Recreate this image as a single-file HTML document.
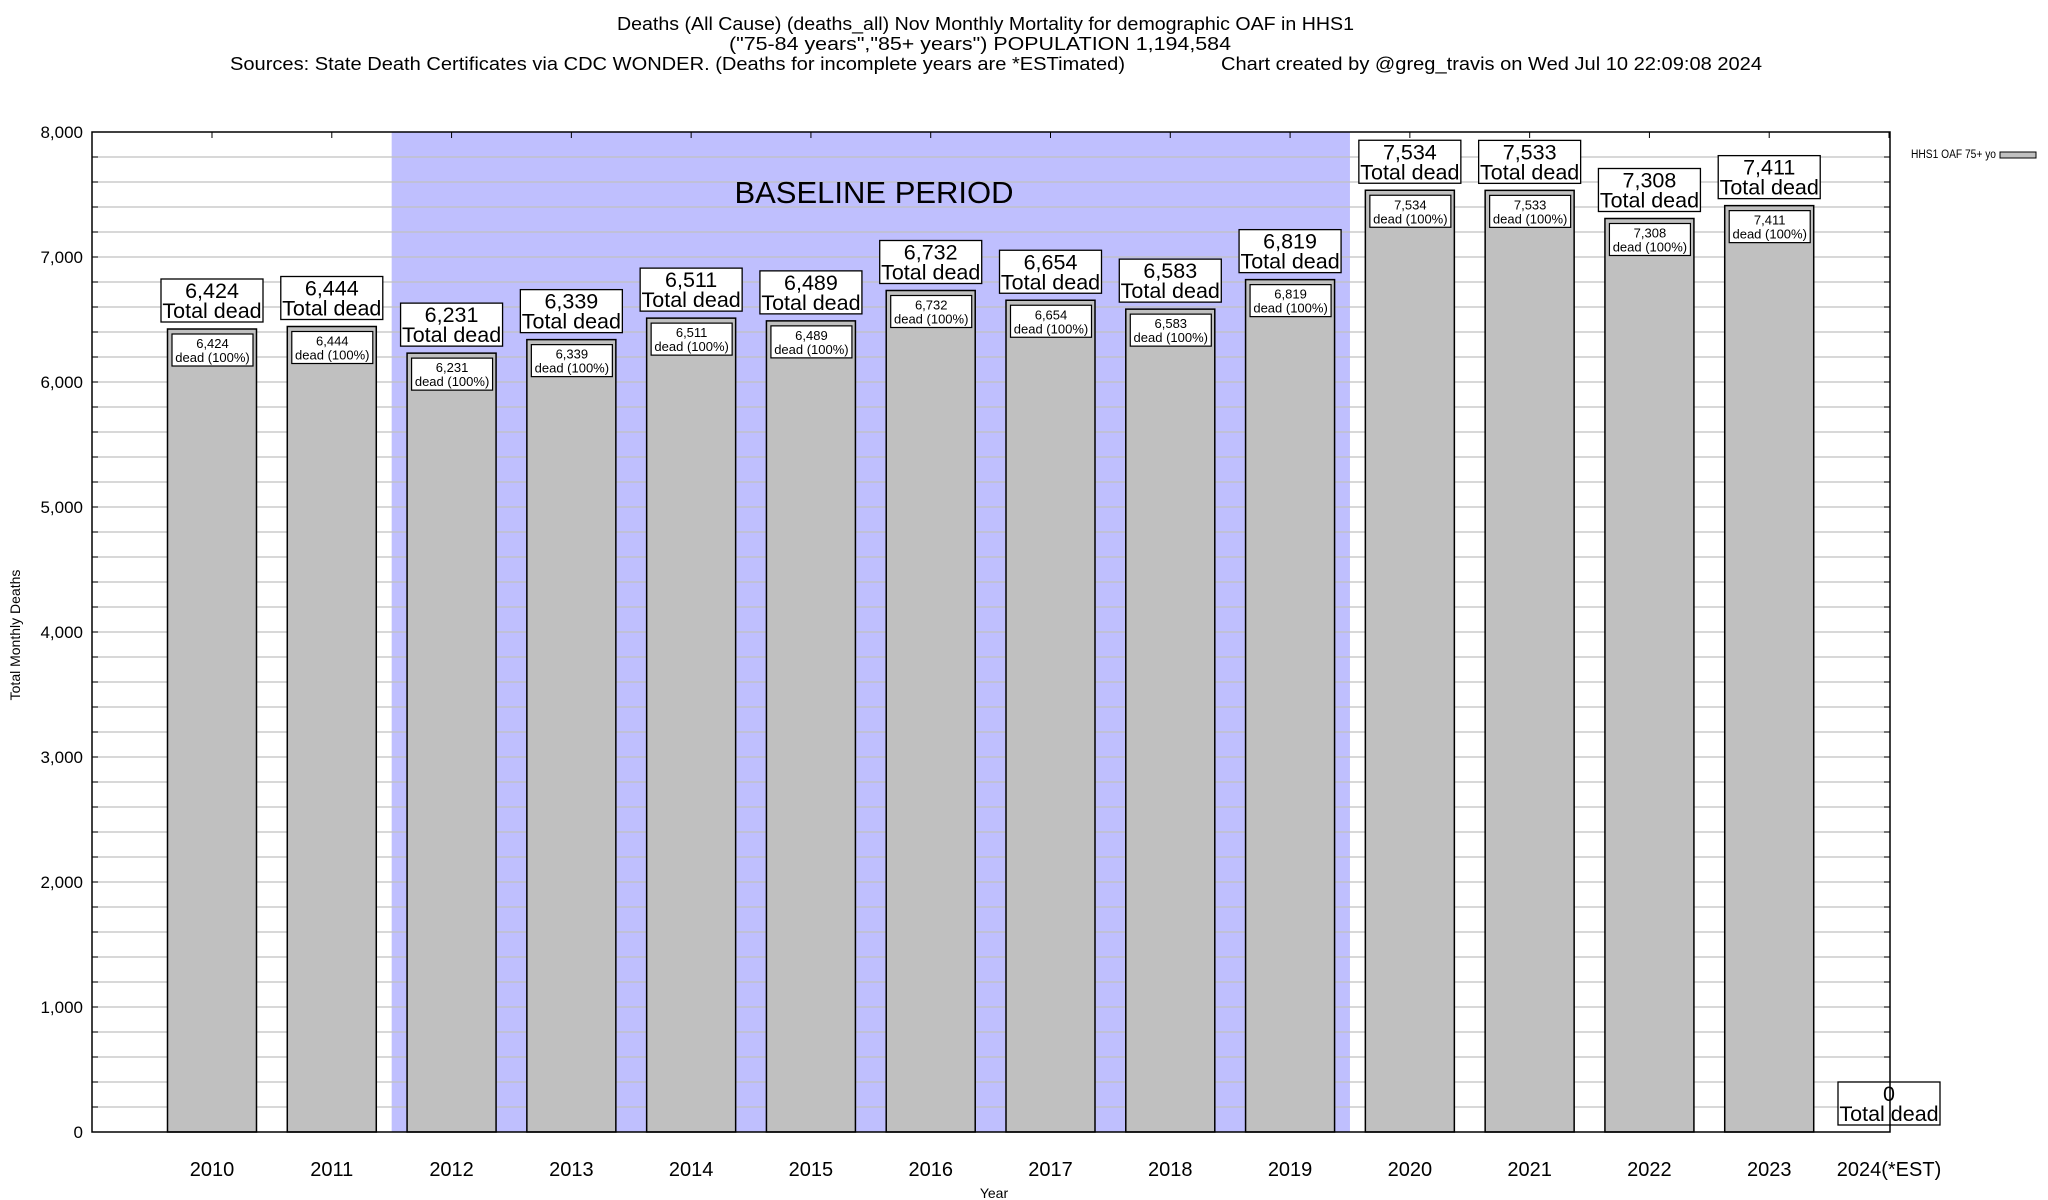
<!DOCTYPE html>
<html><head><meta charset="utf-8"><style>
html,body{margin:0;padding:0;background:#fff}
svg{display:block;font-family:"Liberation Sans",Arial,sans-serif}
</style></head><body>
<svg id="chart" width="2048" height="1200" viewBox="0 0 2048 1200" xmlns="http://www.w3.org/2000/svg">
<g font-size="18" fill="#000">
<text x="617" y="30" textLength="737" lengthAdjust="spacingAndGlyphs">Deaths (All Cause) (deaths_all) Nov Monthly Mortality for demographic OAF in HHS1</text>
<text x="729" y="50" textLength="502" lengthAdjust="spacingAndGlyphs">("75-84 years","85+ years") POPULATION 1,194,584</text>
<text x="230" y="70" textLength="895" lengthAdjust="spacingAndGlyphs">Sources: State Death Certificates via CDC WONDER. (Deaths for incomplete years are *ESTimated)</text>
<text x="1221" y="70" textLength="541" lengthAdjust="spacingAndGlyphs">Chart created by @greg_travis on Wed Jul 10 22:09:08 2024</text>
</g>
<g id="plot"></g>
</svg>
<script>
const categories = ["2010","2011","2012","2013","2014","2015","2016","2017","2018","2019","2020","2021","2022","2023","2024(*EST)"];
const deaths = [6424,6444,6231,6339,6511,6489,6732,6654,6583,6819,7534,7533,7308,7411,0];
const yTicks = [0,1000,2000,3000,4000,5000,6000,7000,8000];
const yTickLabels = ["0","1,000","2,000","3,000","4,000","5,000","6,000","7,000","8,000"];
const baselineRange = ["2012","2019"];

const NS = "http://www.w3.org/2000/svg";
const L = 92, R = 1890, T = 132, B = 1132, YMAX = 8000;
const c0 = 212, step = (1889 - 212) / 14;
function xPos(i){ return c0 + i*step; }
function yPos(v){ return B - (v / YMAX) * (B - T); }
const plot = document.getElementById('plot');
function mk(tag, attrs, parent){
  const e = document.createElementNS(NS, tag);
  for (const k in attrs) e.setAttribute(k, attrs[k]);
  (parent||plot).appendChild(e);
  return e;
}
function fmt(v){ return v.toLocaleString('en-US'); }

const bi0 = categories.indexOf(baselineRange[0]), bi1 = categories.indexOf(baselineRange[1]);
const shade = mk('rect', {x: xPos(bi0)-step/2, y: T, width: (bi1-bi0+1)*step, height: B-T, fill:'#bfbffe'});



for (let v = 200; v < YMAX; v += 200){
  const g = mk('line', {x1:L, x2:R, y1:yPos(v), y2:yPos(v), stroke:'#c0c0c0', 'stroke-width':1.2});
  
  
  const t1 = mk('line', {x1:L, x2:L+6, y1:yPos(v), y2:yPos(v), stroke:'#000'});
  
  
  const t2 = mk('line', {x1:R-6, x2:R, y1:yPos(v), y2:yPos(v), stroke:'#000'});
  
  
}

const bt = mk('text', {x:874, y:203, 'font-size':31, 'text-anchor':'middle'});
bt.textContent = 'BASELINE PERIOD';



yTicks.forEach((v, i) => {
  const t = mk('text', {x:83, y:yPos(v)+6, 'font-size':17, 'text-anchor':'end'});
  t.textContent = yTickLabels[i];
  
  
});

categories.forEach((c, i) => {
  const v = deaths[i], cx = xPos(i), bw = 89;
  const g = mk('g', {});
  
  
  const top = yPos(v);
  if (v > 0){
    const r = mk('rect', {x:cx-bw/2, y:top, width:bw, height:B-top, fill:'#c0c0c0', stroke:'#000', 'stroke-width':1.5}, g);
    
    
    const ib = mk('rect', {x:cx-40, y:top+5, width:81, height:32, fill:'#fff', stroke:'#000', 'stroke-width':1.2}, g);
    
    
    const t1 = mk('text', {x:cx+0.5, y:top+19, 'font-size':13, 'text-anchor':'middle'}, g);
    t1.textContent = fmt(v);
    
    
    const t2 = mk('text', {x:cx+0.5, y:top+33, 'font-size':13, 'text-anchor':'middle'}, g);
    t2.textContent = 'dead (100%)';
    
    
  }
  const by = top - 7 - 43;
  const ob = mk('rect', {x:cx-51, y:by, width:102, height:43, fill:'#fff', stroke:'#000', 'stroke-width':1.3}, g);
  
  
  const o1 = mk('text', {x:cx, y:by+19, 'font-size':21.5, 'text-anchor':'middle'}, g);
  o1.textContent = fmt(v);
  
  
  const o2 = mk('text', {x:cx, y:by+39, 'font-size':21.5, 'text-anchor':'middle'}, g);
  o2.textContent = 'Total dead';
  
  

  const tk = mk('line', {x1:cx, x2:cx, y1:T, y2:T+6, stroke:'#000'});
  
  
  const xl = mk('text', {x:cx, y:1176, 'font-size':20, 'text-anchor':'middle'});
  xl.textContent = c;
  
  
});

const frame = mk('rect', {x:L, y:T, width:R-L, height:B-T, fill:'none', stroke:'#000', 'stroke-width':1.5});



const yt = mk('text', {x:0, y:0, 'font-size':14, 'text-anchor':'middle', transform:'translate(20,635) rotate(-90)'});
yt.textContent = 'Total Monthly Deaths';


const xt = mk('text', {x:994, y:1198, 'font-size':14, 'text-anchor':'middle'});
xt.textContent = 'Year';



const lg = mk('g', {});


const lt = mk('text', {x:1911, y:158, 'font-size':11.5, textLength:85, lengthAdjust:'spacingAndGlyphs'}, lg);
lt.textContent = 'HHS1 OAF 75+ yo';


const ls = mk('rect', {x:2000, y:152, width:36, height:6, fill:'#c0c0c0', stroke:'#000', 'stroke-width':1}, lg);


</script>
</body></html>
